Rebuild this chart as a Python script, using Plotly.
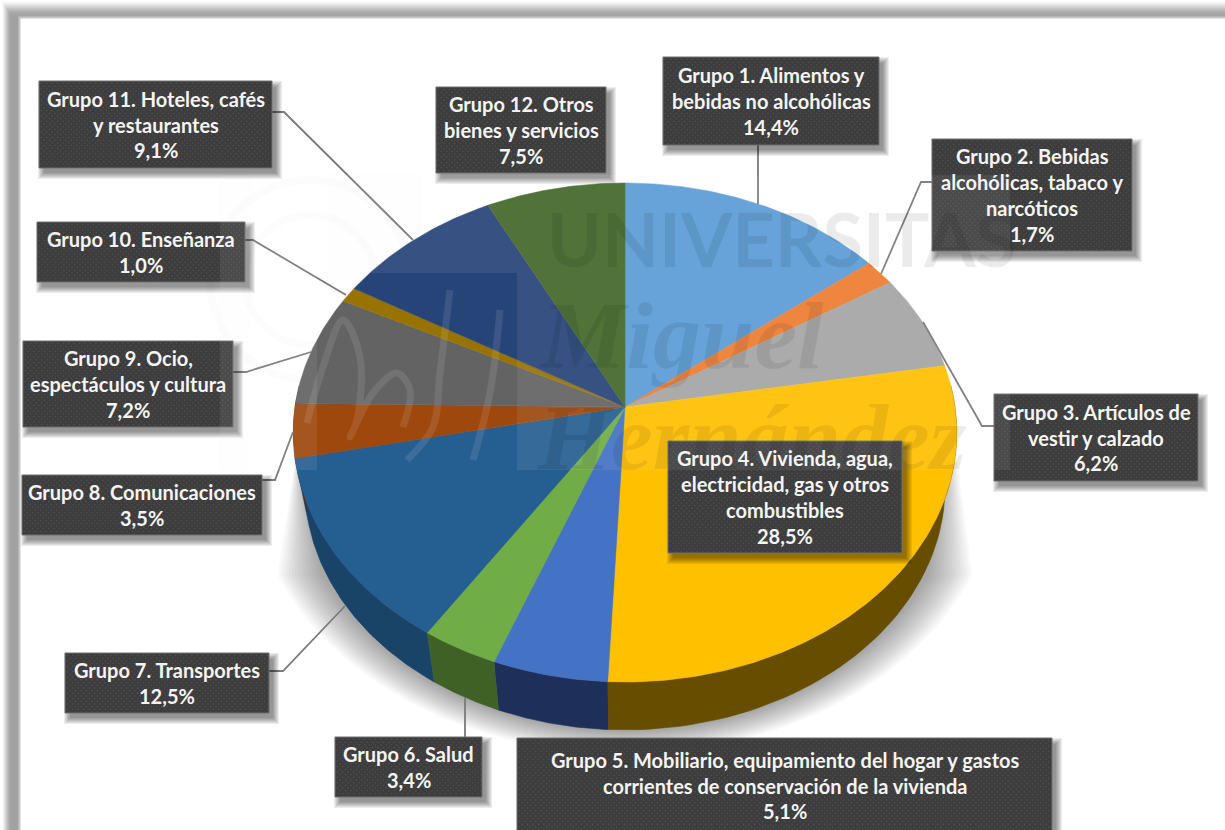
import numpy as np
import plotly.graph_objects as go

# IPC weights by expenditure group
groups = ["Grupo 1", "Grupo 2", "Grupo 3", "Grupo 4", "Grupo 5", "Grupo 6",
          "Grupo 7", "Grupo 8", "Grupo 9", "Grupo 10", "Grupo 11", "Grupo 12"]
weights = [14.4, 1.7, 6.2, 28.5, 5.1, 3.4, 12.5, 3.5, 7.2, 1.0, 9.1, 7.5]
label_lines = [
    ["Grupo 1. Alimentos y", "bebidas no alcohólicas", "14,4%"],
    ["Grupo 2. Bebidas", "alcohólicas, tabaco y", "narcóticos", "1,7%"],
    ["Grupo 3. Artículos de", "vestir y calzado", "6,2%"],
    ["Grupo 4. Vivienda, agua,", "electricidad, gas y otros", "combustibles", "28,5%"],
    ["Grupo 5. Mobiliario, equipamiento del hogar y gastos",
     "corrientes de conservación de la vivienda", "5,1%"],
    ["Grupo 6. Salud", "3,4%"],
    ["Grupo 7. Transportes", "12,5%"],
    ["Grupo 8. Comunicaciones", "3,5%"],
    ["Grupo 9. Ocio,", "espectáculos y cultura", "7,2%"],
    ["Grupo 10. Enseñanza", "1,0%"],
    ["Grupo 11. Hoteles, cafés", "y restaurantes", "9,1%"],
    ["Grupo 12. Otros", "bienes y servicios", "7,5%"],
]
top_colors = ["#5B9BD5", "#ED7D31", "#A5A5A5", "#FFC000", "#4472C4", "#70AD47",
              "#255E91", "#9E480E", "#636363", "#997300", "#264478", "#43682B"]
side_colors = ["#37618a", "#8e4a1d", "#636363", "#664D00", "#1E3059", "#3F6126",
               "#1A4368", "#5f2b08", "#3b3b3b", "#5c4500", "#16294a", "#283e19"]

# Label boxes: x0, x1, y0, y1 in page pixels
boxes = [(663, 879, 57, 145), (932, 1132, 139, 251), (994, 1198, 394, 481),
         (668, 902, 441, 553), (517, 1052, 738, 832), (335, 482, 737, 797),
         (65, 269, 653, 713), (22, 262, 475, 535), (23, 233, 341, 427),
         (37, 245, 222, 282), (39, 272, 81, 168), (436, 606, 87, 173)]
# Leader polylines from each box to its slice
leaders = [
    [(758, 145), (758, 204)],
    [(932, 182), (921, 182), (881, 274)],
    [(994, 426), (982, 426), (923, 322)],
    None,
    None,
    [(465, 737), (465, 697)],
    [(269, 671), (283, 671), (345, 606)],
    [(262, 480), (275, 480), (293, 432)],
    [(233, 372), (246, 372), (311, 352)],
    [(245, 240), (253, 240), (346, 295)],
    [(272, 112), (284, 112), (413, 240)],
    None,
]

# Projection of the tilted disc: apex, perspective and the two rims
CX, APEX_Y, P = 625.0, 407.0, 0.1022
TOP_A, TOP_B = 330.0, 246.9
RIM_Y, RIM_A, RIM_B = 462.0, 318.3, 240.5


def top_rim(theta):
    x, y = np.sin(theta), np.cos(theta)
    d = 1 + P * y
    return CX + TOP_A * x / d, APEX_Y - TOP_B * y / d


def low_rim(theta):
    x, y = np.sin(theta), np.cos(theta)
    d = 1 + P * y
    return CX + RIM_A * x / d, RIM_Y - RIM_B * y / d


def polygon(xs, ys, color, line_w=0.6):
    return go.Scatter(x=list(xs), y=list(ys), mode="lines", fill="toself",
                      fillcolor=color, line=dict(color=color, width=line_w),
                      hoverinfo="skip", showlegend=False)


fig = go.Figure()

# Page frame with its soft grey edge
ramp = ["#fbfbfb", "#f3f3f3", "#e8e8e8", "#dcdcdc", "#d0d0d0", "#c4c4c4",
        "#b9b9b9", "#afafaf", "#a8a8a8", "#a4a4a4", "#a2a2a2"]
shapes = []
for i, c in enumerate(ramp):
    shapes.append(dict(type="rect", layer="below", x0=2 + i * 0.9, y0=1 + i * 1.4,
                       x1=1230, y1=835, fillcolor=c, line_width=0))
shapes.append(dict(type="rect", layer="below", x0=18.5, y0=16.5, x1=1230, y1=835,
                   fillcolor="#c6c6c6", line_width=0))
shapes.append(dict(type="rect", layer="below", x0=20.5, y0=18.5, x1=1230, y1=835,
                   fillcolor="#ffffff", line_width=0))

# Soft shadow below the disc, stacked from wide and faint to tight
for t in np.linspace(1, 0, 16):
    rx, ry, cy = 332 + 42 * t, 262 + 22 * t, 470
    a = np.linspace(np.arcsin((575 - cy) / ry), np.pi - np.arcsin((575 - cy) / ry), 90)
    sx = CX + rx * np.cos(a)
    sy = cy + ry * np.sin(a)
    xs = np.concatenate([[950], sx, [298]])
    ys = np.concatenate([[405], sy, [440]])
    fig.add_trace(polygon(xs, ys, "rgba(0,0,0,0.024)", 0))

# Slices: running share of the total gives each start and end angle
total = sum(weights)
edges = 2 * np.pi * np.cumsum([0] + weights) / total

# Outer wall of the front half
for i in range(len(weights)):
    lo, hi = max(edges[i], np.radians(85)), min(edges[i + 1], np.radians(275))
    if hi <= lo:
        continue
    th = np.linspace(lo, hi, 60)
    tx, ty = top_rim(th)
    bx, by = low_rim(th)
    fig.add_trace(polygon(np.concatenate([tx, bx[::-1]]),
                          np.concatenate([ty, by[::-1]]), side_colors[i]))

# Top face
for i, w in enumerate(weights):
    th = np.linspace(edges[i], edges[i + 1], max(int(w * 6), 12))
    tx, ty = top_rim(th)
    fig.add_trace(go.Scatter(
        x=np.concatenate([[CX], tx, [CX]]), y=np.concatenate([[APEX_Y], ty, [APEX_Y]]),
        mode="lines", fill="toself", fillcolor=top_colors[i],
        line=dict(color=top_colors[i], width=0.5),
        name=groups[i], text=f"{groups[i]}: {w}%", hoverinfo="text", showlegend=False))

# Handwritten monogram of the crest, lighter than the slices beneath it
strokes = [
    [(307, 423), (323, 367), (343, 320), (360, 357), (357, 420), (350, 437),
     (373, 393), (397, 373), (410, 390), (403, 427)],
    [(450, 290), (440, 373), (433, 427), (407, 460)],
    [(500, 310), (490, 393), (473, 460)],
]
for s in strokes:
    fig.add_trace(go.Scatter(x=[p[0] for p in s], y=[p[1] for p in s], mode="lines",
                             line=dict(color="rgba(255,255,255,0.10)", width=7, shape="spline"),
                             hoverinfo="skip", showlegend=False))

# Leader lines
for path in leaders:
    if path:
        fig.add_trace(go.Scatter(x=[p[0] for p in path], y=[p[1] for p in path], mode="lines",
                                 line=dict(color="#7a7a7a", width=1.8),
                                 hoverinfo="skip", showlegend=False))

# Label boxes: blurred drop shadow, dark fill, dotted texture
for x0, x1, y0, y1 in boxes:
    for grow in (6, 5, 4, 3, 2, 1, 0):
        fig.add_trace(polygon(
            [x0 + 5 - grow, x1 + 4 + grow, x1 + 4 + grow, x0 + 5 - grow],
            [y0 + 6 - grow, y0 + 6 - grow, y1 + 5 + grow, y1 + 5 + grow],
            "rgba(0,0,0,0.07)", 0))
    fig.add_trace(go.Scatter(x=[x0, x1, x1, x0, x0], y=[y0, y0, y1, y1, y0], mode="lines",
                             fill="toself", fillcolor="#3d3d3d",
                             line=dict(color="#707070", width=1),
                             hoverinfo="skip", showlegend=False))
    dx, dy = [], []
    for r, yy in enumerate(np.arange(y0 + 2.5, y1, 2.7)):
        for xx in np.arange(x0 + 2.5 + (r % 2) * 2.7, x1 - 1, 5.4):
            dx.append(float(xx))
            dy.append(float(yy))
    fig.add_trace(go.Scatter(x=dx, y=dy, mode="markers",
                             marker=dict(size=1.5, color="#525252", line_width=0),
                             hoverinfo="skip", showlegend=False))

# Pale wash of the background crest, laid over everything except its inner square
wash = "rgba(255,255,255,0.075)"
for x0, x1, y0, y1 in [(220, 1010, 175, 273), (220, 317, 273, 470), (517, 1010, 273, 470)]:
    shapes.append(dict(type="rect", layer="above", x0=x0, x1=x1, y0=y0, y1=y1,
                       fillcolor=wash, line_width=0))
for cx_, cy_, r_ in [(310, 280, 65), (310, 280, 100)]:
    shapes.append(dict(type="circle", layer="below", x0=cx_ - r_, x1=cx_ + r_, y0=cy_ - r_, y1=cy_ + r_,
                       line=dict(color="rgba(0,0,0,0.012)", width=8)))
for x0, x1, y0, y1 in [(220, 250, 175, 470), (330, 420, 175, 280)]:
    shapes.append(dict(type="rect", layer="below", x0=x0, x1=x1, y0=y0, y1=y1,
                       fillcolor="rgba(0,0,0,0.004)", line=dict(color="rgba(0,0,0,0.008)", width=1)))

annotations = [
    dict(x=781, y=238, text="UNIVERSITAS", font=dict(family="Lato", size=74, weight=700, color="rgba(0,0,0,0.08)")),
    dict(x=681, y=335, text="<i>Miguel</i>", font=dict(family="Liberation Serif", size=96, weight=700, color="rgba(0,0,0,0.08)")),
    dict(x=752, y=437, text="<i>Hernández</i>", font=dict(family="Liberation Serif", size=94, weight=700, color="rgba(0,0,0,0.08)")),
]
# Label text, one annotation per line for an even 26 px leading
for (x0, x1, y0, y1), lines in zip(boxes, label_lines):
    mid = 785.5 if y1 > 830 else (y0 + y1) / 2
    for k, line in enumerate(lines):
        annotations.append(dict(
            x=(x0 + x1) / 2, y=mid + 25.7 * (k - (len(lines) - 1) / 2), text=line,
            font=dict(family="Lato", size=20, weight=700, color="#f4f4f4")))
for a in annotations:
    a.update(xref="x", yref="y", showarrow=False, xanchor="center", yanchor="middle")

fig.update_layout(
    width=1225, height=830, autosize=False, margin=dict(l=0, r=0, t=0, b=0, pad=0),
    paper_bgcolor="#ffffff", plot_bgcolor="#ffffff", showlegend=False,
    xaxis=dict(range=[0, 1225], visible=False, fixedrange=True),
    yaxis=dict(range=[830, 0], visible=False, fixedrange=True),
    shapes=shapes, annotations=annotations,
)
fig.write_html("out.html", config={"displayModeBar": False})
